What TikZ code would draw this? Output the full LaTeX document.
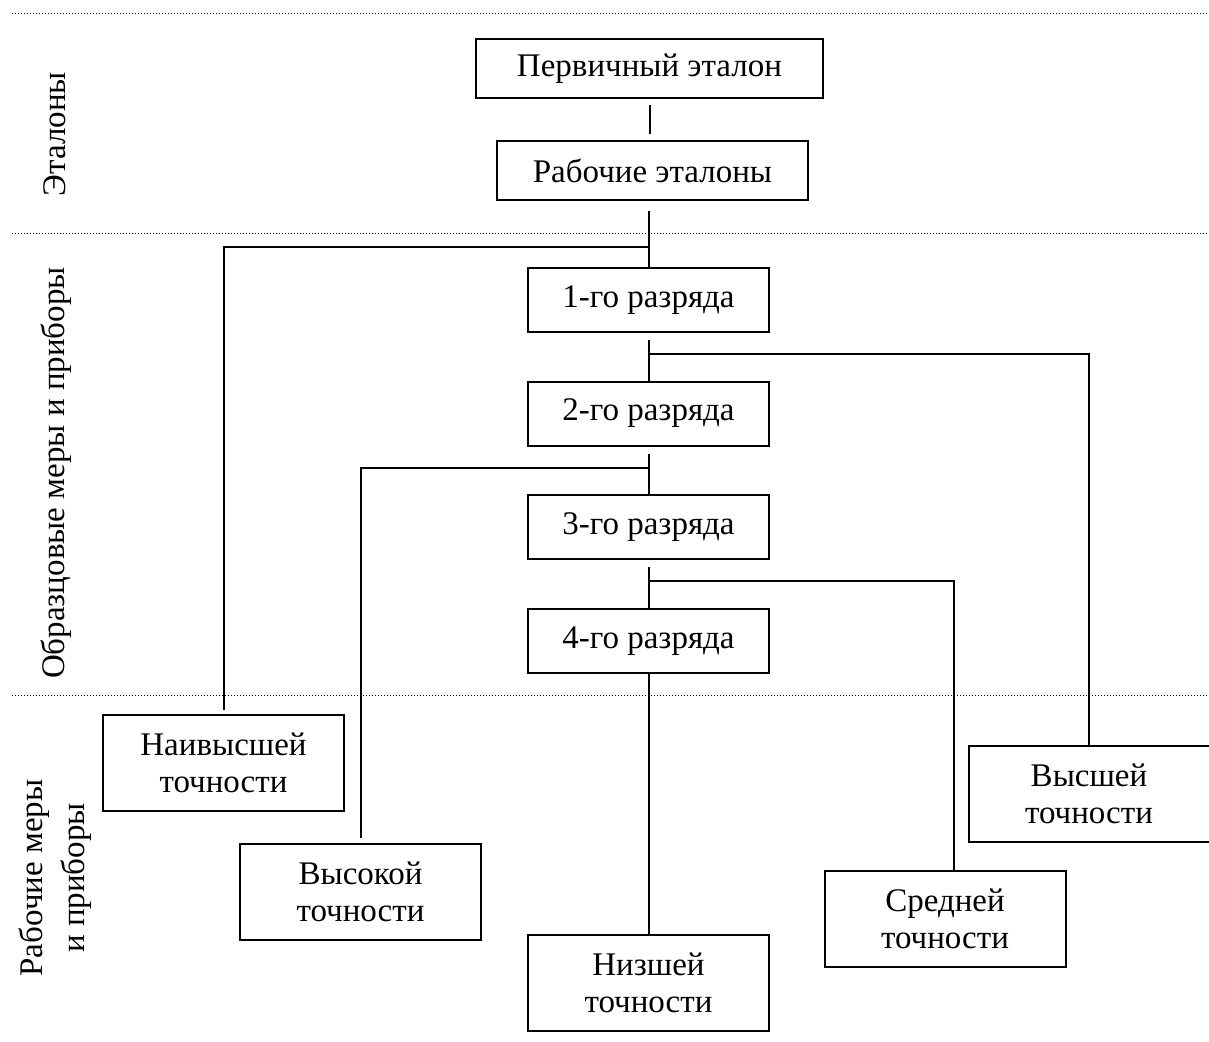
\documentclass[tikz,border=0pt]{standalone}
\usepackage{fontspec}
\setmainfont{Liberation Serif}
\usetikzlibrary{positioning, calc}

\begin{document}
\begin{tikzpicture}[x=0.5pt, y=-0.5pt,
  box/.style={draw, line width=1pt, minimum width=120.5pt, minimum height=32pt, inner sep=0pt, align=center, font=\fontsize{16.5}{18.5}\selectfont},
  tallbox/.style={box, minimum height=48pt},
  link/.style={line width=1pt},
  sep/.style={line width=0.5pt, densely dotted},
  side/.style={rotate=90, align=center, font=\fontsize{16.5}{21}\selectfont}]
  \useasboundingbox (0,0) rectangle (1209,1041);

  % level separators
  \draw[sep] (12,13) -- (1209,13);
  \draw[sep] (12,233) -- (1209,233);
  \draw[sep] (12,695) -- (1209,695);

  \node[side] (lstd) at (55,134) {Эталоны};
  \node[side] (lmodel) at (56,473) {Образцовые меры и приборы};
  \node[side] (lwork) at (55,878) {Рабочие меры\\и приборы};

  \node[box, minimum width=173.5pt, minimum height=29.5pt] (prim) at (649.5,68.5) {Первичный эталон};
  \node[box, minimum width=155.5pt, minimum height=29.5pt] (work) at (652.5,170.5) {Рабочие эталоны};
  \node[box] (r1) at (648.5,300) {1-го разряда};
  \node[box] (r2) at (648.5,413.5) {2-го разряда};
  \node[box] (r3) at (648.5,527) {3-го разряда};
  \node[box] (r4) at (648.5,641) {4-го разряда};

  \node[tallbox] (top) at (223.5,763) {Наивысшей\\точности};
  \node[tallbox] (high) at (360.5,892) {Высокой\\точности};
  \node[tallbox] (low) at (648.5,982.5) {Низшей\\точности};
  \node[tallbox] (mid) at (945,919) {Средней\\точности};
  \node[tallbox] (higher) at (1089,794) {Высшей\\точности};

  % main chain
  \draw[link, shorten <=3pt, shorten >=3pt] (prim.south) -- (prim.south |- work.north);
  \draw[link, shorten <=5pt] (work.south -| r1.north) -- (r1.north);
  \draw[link, shorten <=3.5pt] (r1) -- (r2);
  \draw[link, shorten <=3.5pt] (r2) -- (r3);
  \draw[link, shorten <=3.5pt] (r3) -- (r4);
  \draw[link] (r4) -- (low);

  % branches
  \draw[link] (r1.north) ++(0,-20) coordinate (j0) -| ([yshift=2pt]top.north);
  \draw[link] (r2.north) ++(0,-27) coordinate (j1) -| (higher.north);
  \draw[link] (r3.north) ++(0,-26) coordinate (j2) -| ([yshift=2.5pt]high.north);
  \draw[link] (r4.north) ++(0,-27) coordinate (j3) -| ([xshift=4.5pt]mid.north);
\end{tikzpicture}
\end{document}
